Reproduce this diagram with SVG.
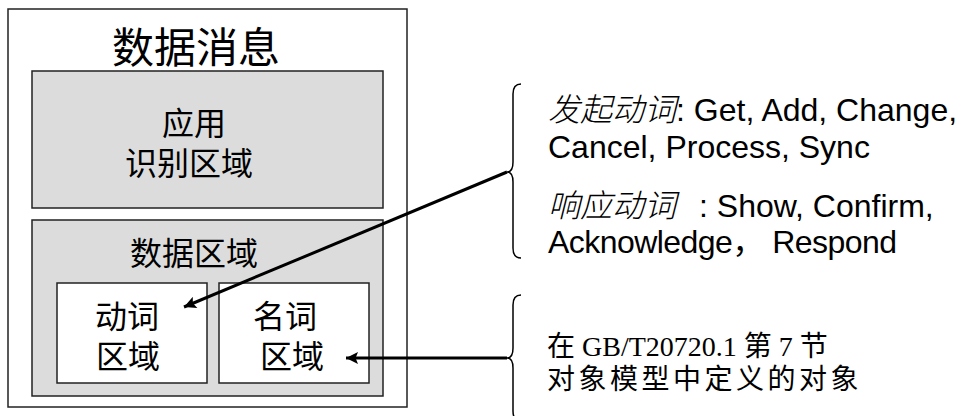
<svg xmlns="http://www.w3.org/2000/svg" width="961" height="416" viewBox="0 0 961 416">
<defs>
<style>
.box{stroke:#222;stroke-width:1.5}
.grey{fill:#dcdcdc}
.white{fill:#fff}
.cn{font-family:"Liberation Sans","Noto Sans CJK SC",sans-serif;fill:#000}
.lat{font-family:"Liberation Sans","Noto Sans CJK SC",sans-serif;fill:#000;font-size:32px}
.ser{font-family:"Liberation Serif","Noto Sans CJK SC",serif;fill:#000;font-size:28px}
.it{font-family:"Noto Sans CJK SC",sans-serif;font-style:italic;font-weight:300}
.conn{stroke:#000;stroke-width:3;fill:none}
.brace{stroke:#000;stroke-width:1.5;fill:none}
</style>
<marker id="ah" viewBox="0 0 10 10" refX="10" refY="5" markerWidth="4.5" markerHeight="4" markerUnits="strokeWidth" orient="auto">
<path d="M0,0 L10,5 L0,10 L2,5 z" fill="#000"/>
</marker>
</defs>
<g id="message">
<rect x="8" y="9" width="399" height="398" fill="#fff" class="box"/>
<text class="cn" x="196" y="63" font-size="42" text-anchor="middle">数据消息</text>
</g>
<g id="app-id">
<rect x="32" y="71" width="351" height="137" class="box grey"/>
<text class="cn" font-size="32" text-anchor="middle"><tspan x="194" y="135">应用</tspan><tspan x="189" y="175">识别区域</tspan></text>
</g>
<g id="data">
<rect x="32" y="220" width="351" height="176" class="box grey"/>
<text class="cn" x="194" y="265" font-size="32" text-anchor="middle">数据区域</text>
</g>
<g id="verb">
<rect x="57" y="283" width="150" height="100" class="box white"/>
<text class="cn" font-size="32" text-anchor="middle"><tspan x="127" y="328">动词</tspan><tspan x="128" y="368">区域</tspan></text>
</g>
<g id="noun">
<rect x="219" y="283" width="150" height="100" class="box white"/>
<text class="cn" font-size="32" text-anchor="middle"><tspan x="285" y="328">名词</tspan><tspan x="292" y="368">区域</tspan></text>
</g>
<g id="verbs-note">
<path class="brace" d="M521,84 Q513,84 513,94 L513,162 Q513,172 507,172 Q513,172 513,182 L513,248 Q513,258 521,258"/>
<text class="lat" y="121"><tspan x="548" class="it">发起动词</tspan>: Get, Add, Change,</text>
<text class="lat" x="548" y="158">Cancel, Process, Sync</text>
<text class="lat" y="217"><tspan x="548" class="it">响应动词</tspan><tspan x="699">: Show, Confirm,</tspan></text>
<text class="lat" x="548" y="253" textLength="349" lengthAdjust="spacing">Acknowledge， Respond</text>
</g>
<g id="nouns-note">
<path class="brace" d="M521,295 Q513,295 513,305 L513,348 Q513,358 507,358 Q513,358 513,368 L513,411 Q513,421 521,421"/>
<text class="ser"><tspan x="547" y="356">在 GB/T20720.1 第 7 节</tspan><tspan x="547" y="389" letter-spacing="3.5">对象模型中定义的对象</tspan></text>
</g>
<g id="connectors">
<line class="conn" x1="507" y1="172" x2="184" y2="307" marker-end="url(#ah)"/>
<line class="conn" x1="507" y1="358" x2="346" y2="358" marker-end="url(#ah)"/>
</g>
</svg>
